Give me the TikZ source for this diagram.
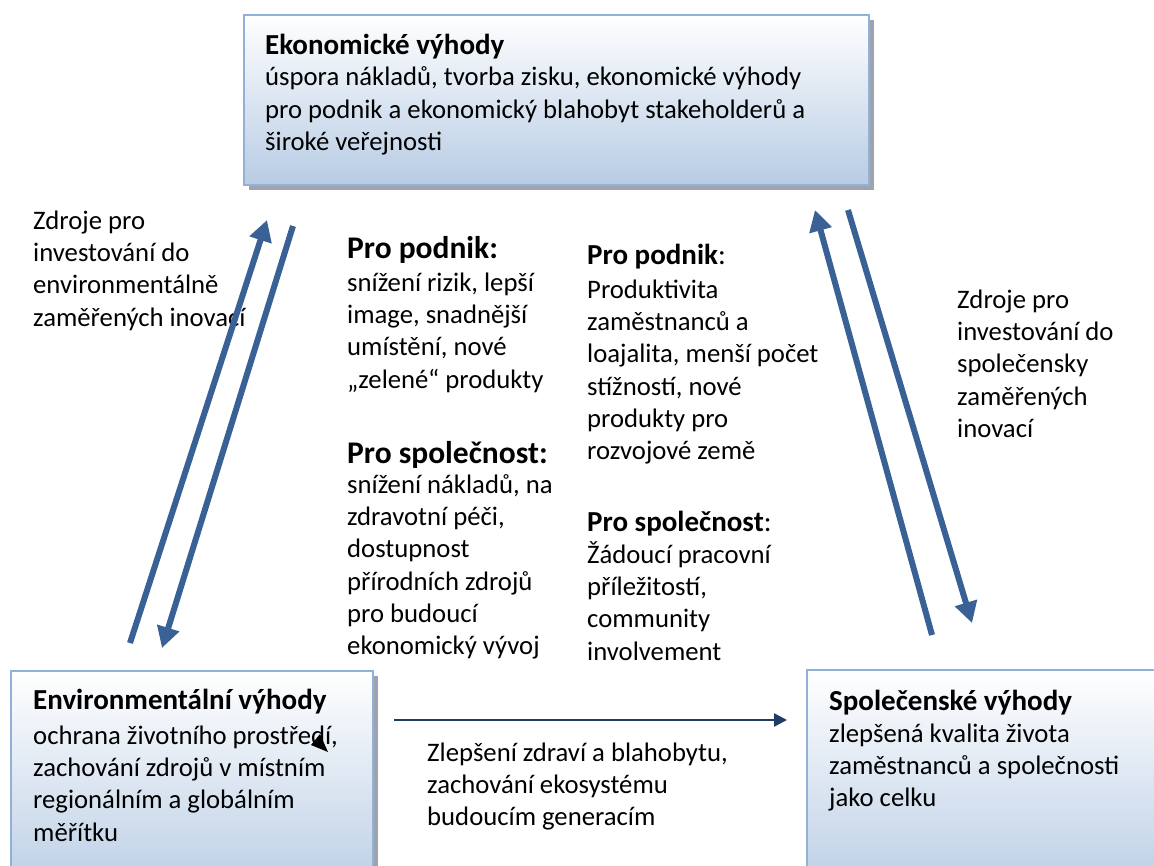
\documentclass[tikz,border=0pt]{standalone}
\usepackage{fontspec}
\setmainfont{Carlito}
\usetikzlibrary{arrows.meta,shadows}

\definecolor{arrowblue}{HTML}{3A6195}
\definecolor{navy}{HTML}{1F3B66}
\definecolor{boxedge}{HTML}{93B1D8}
\definecolor{boxfill}{HTML}{B8CCE4}
\definecolor{boxshadow}{HTML}{9CA4AF}

\newcommand\bodyfont{\fontsize{26.7}{32.3}\selectfont}
\newcommand\headfont{\fontsize{29}{35}\selectfont\bfseries}
\newcommand\bigheadfont{\fontsize{31.5}{37}\selectfont\bfseries}

\begin{document}
\begin{tikzpicture}[x=1pt,y=-1pt,
  panel/.style={draw=boxedge, line width=1.5pt, top color=white, bottom color=boxfill,
    anchor=north west, inner sep=0pt,
    drop shadow={shadow xshift=5pt, shadow yshift=-5pt, fill=boxshadow, opacity=1}},
  txt/.style={anchor=north west, inner sep=0pt, align=left, font=\bodyfont},
  head/.style={anchor=base west, inner sep=0pt, font=\headfont},
  bighead/.style={anchor=base west, inner sep=0pt, font=\bigheadfont},
  flow/.style={draw=arrowblue, line width=6pt, -{Triangle[length=21pt,width=22pt]}},
  link/.style={draw=navy, line width=2.5pt, -{Triangle[length=13pt,width=13pt]}}]

\clip (0,0) rectangle (1154,865);
\fill[white] (0,0) rectangle (1154,865);

% the three boxes
\node[panel, minimum width=625pt, minimum height=170pt] (econ) at (243,14) {};
\node[panel, minimum width=362pt, minimum height=230pt] (env) at (10,670) {};
\node[panel, minimum width=360pt, minimum height=230pt] (soc) at (806,669) {};

% box texts
\node[head] (econhead) at (265,54) {Ekonomické výhody};
\node[txt] (econtext) at (265,63) {\strut úspora nákladů, tvorba zisku, ekonomické výhody\\pro podnik a ekonomický blahobyt stakeholderů a\\široké veřejnosti};

\node[head] (envhead) at (33,709) {Environmentální výhody};
\node[txt] (envtext) at (33,721.4) {\strut ochrana životního prostředí,\\zachování zdrojů v místním\\regionálním a globálním\\měřítku};

\node[head] (sochead) at (829,710) {Společenské výhody};
\node[txt] (soctext) at (829,719.4) {\strut zlepšená kvalita života\\zaměstnanců a společnosti\\jako celku};

% side labels
\node[txt] (envinvest) at (33,206.4) {\strut Zdroje pro\\investování do\\environmentálně\\zaměřených inovací};
\node[txt] (socinvest) at (957,285.4) {\strut Zdroje pro\\investování do\\společensky\\zaměřených\\inovací};

% middle columns
\node[bighead] (c1head) at (347,258) {Pro podnik:};
\node[txt] (c1text) at (347,268.4) {\strut snížení rizik, lepší\\image, snadnější\\umístění, nové\\„zelené“ produkty};
\node[bighead] (c1headb) at (347,463) {Pro společnost:};
\node[txt] (c1textb) at (347,470.4) {\strut snížení nákladů, na\\zdravotní péči,\\dostupnost\\přírodních zdrojů\\pro budoucí\\ekonomický vývoj};

\node[head] (c2head) at (587,264) {Pro podnik\mdseries:};
\node[txt] (c2text) at (587,275.4) {\strut Produktivita\\zaměstnanců a\\loajalita, menší počet\\stížností, nové\\produkty pro\\rozvojové země};
\node[head] (c2headb) at (587,531) {Pro společnost\mdseries:};
\node[txt] (c2textb) at (587,540.4) {\strut Žádoucí pracovní\\příležitostí,\\community\\involvement};

\node[txt] (midtext) at (427,738.4) {\strut Zlepšení zdraví a blahobytu,\\zachování ekosystému\\budoucím generacím};

% connector end points
\coordinate (l1s) at (130,643); \coordinate (l1e) at (267,220);
\coordinate (l2s) at (293,226); \coordinate (l2e) at (162,648);
\coordinate (r1s) at (932,635); \coordinate (r1e) at (815,210);
\coordinate (r2s) at (848,210); \coordinate (r2e) at (972,623);
\coordinate (hs) at (394,720);  \coordinate (he) at (787,720);

\draw[flow] (l1s) -- (l1e);
\draw[flow] (l2s) -- (l2e);
\draw[flow] (r1s) -- (r1e);
\draw[flow] (r2s) -- (r2e);
\draw[link] (hs) -- (he);

% small stray tip inside the environmental box
\fill[black] (311,745) -- (320,734) -- (328,752) -- cycle;
\end{tikzpicture}
\end{document}
